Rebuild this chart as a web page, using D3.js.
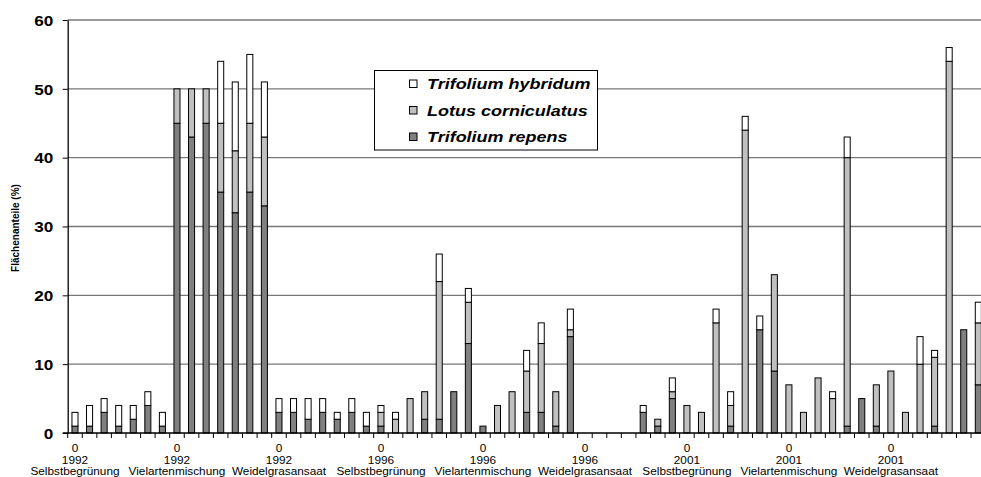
<!DOCTYPE html>
<html><head><meta charset="utf-8">
<script src="https://cdn.jsdelivr.net/npm/d3@7"></script>
<style>body{margin:0;background:#fff}svg{display:block}</style>
</head><body><svg id="c" width="981" height="477"></svg>
<script>
// ---- data ----
const groupIndex = ["0","0","0","0","0","0","0","0","0"];
const groupYears = ["1992","1992","1992","1996","1996","1996","2001","2001","2001"];
const groupTreatments = ["Selbstbegrünung","Vielartenmischung","Weidelgrasansaat",
  "Selbstbegrünung","Vielartenmischung","Weidelgrasansaat",
  "Selbstbegrünung","Vielartenmischung","Weidelgrasansaat"];
const plotsPerGroup = 7;
const seriesNames = ["Trifolium repens","Lotus corniculatus","Trifolium hybridum"];
const repens = [1,1,3,1,2,4,1, 45,43,45,35,32,35,33, 3,3,2,3,2,3,1,
  1,0,0,2,2,6,13, 1,0,0,3,3,1,14, 0,0,0,0,3,1,5,
  0,0,0,1,0,15,9, 0,0,0,0,1,5,1, 0,0,0,1,0,15,7];
const lotus = [0,0,0,0,0,0,0, 5,7,5,10,9,10,10, 0,0,0,0,0,0,0,
  2,2,5,4,20,0,6, 0,4,6,6,10,5,1, 0,0,0,0,0,1,1,
  4,3,16,3,44,0,14, 7,3,8,5,39,0,6, 9,3,10,10,54,0,9];
const hybridum = [2,3,2,3,2,2,2, 0,0,0,9,10,10,8, 2,2,3,2,1,2,2,
  1,1,0,0,4,0,2, 0,0,0,3,3,0,3, 0,0,0,0,1,0,2,
  0,0,2,2,2,2,0, 0,0,0,1,3,0,0, 0,0,4,1,2,0,3];
const yTicks = [0,10,20,30,40,50,60];
const yTitle = "Flächenanteile (%)";

// ---- chart ----
const svg = d3.select("#c");
const SX = 1.18; // horizontal text stretch of the original
const nCat = repens.length;
const x0 = 67.7, x1 = 985.6;
const x = d3.scaleBand().domain(d3.range(nCat)).range([x0, x1])
  .paddingInner(0.585).paddingOuter(0.2925);
const y = d3.scaleLinear().domain([0, 60]).range([433, 20]);
const step = x.step();

// gridlines
svg.append("g").selectAll("line").data(yTicks.filter(t => t > 0)).join("line")
  .attr("x1", x0).attr("x2", 981).attr("y1", d => y(d)).attr("y2", d => y(d))
  .attr("stroke", "#777").attr("stroke-width", 1.3);

// y axis
const yAxis = svg.append("g").attr("transform", `translate(${x0},0)`)
  .call(d3.axisLeft(y).tickValues(yTicks).tickSize(5).tickSizeOuter(0));
yAxis.select(".domain").attr("stroke", "#000").attr("stroke-width", 1.3);
yAxis.selectAll(".tick line").attr("stroke", "#000");
yAxis.selectAll(".tick text")
  .attr("x", -14.5 / SX).attr("dy", "0.36em")
  .attr("transform", `scale(${SX},1)`)
  .attr("font-family", "Liberation Sans, Arial, sans-serif")
  .attr("font-weight", "bold").attr("font-size", 14.5).attr("fill", "#000");

// y title
svg.append("text")
  .attr("transform", `translate(19,228) rotate(-90)`)
  .attr("text-anchor", "middle")
  .attr("font-family", "Liberation Sans, Arial, sans-serif")
  .attr("font-weight", "bold").attr("font-size", 10)
  .text(yTitle);

// bars
const table = d3.range(nCat).map(i => ({i, repens: repens[i], lotus: lotus[i], hybridum: hybridum[i]}));
const stacked = d3.stack().keys(["repens", "lotus", "hybridum"])(table);
const fills = {repens: "#808080", lotus: "#c0c0c0", hybridum: "#ffffff"};
svg.append("g").selectAll("g").data(stacked).join("g")
  .attr("fill", d => fills[d.key])
  .selectAll("rect").data(d => d.filter(s => s[1] - s[0] > 0)).join("rect")
  .attr("x", d => x(d.data.i))
  .attr("width", x.bandwidth())
  .attr("y", d => y(d[1]))
  .attr("height", d => y(d[0]) - y(d[1]))
  .attr("stroke", "#000").attr("stroke-width", 1);

// x axis
svg.append("line").attr("x1", x0 - 5).attr("x2", 981).attr("y1", y(0)).attr("y2", y(0))
  .attr("stroke", "#000").attr("stroke-width", 1.3);
svg.append("g").selectAll("line").data(d3.range(nCat + 1)).join("line")
  .attr("x1", i => x0 + i * step).attr("x2", i => x0 + i * step)
  .attr("y1", y(0)).attr("y2", y(0) + 5)
  .attr("stroke", "#000");

const labG = svg.append("g")
  .attr("font-family", "Liberation Sans, Arial, sans-serif").attr("font-size", 10);
groupYears.forEach((yr, g) => {
  const cx = x(g * plotsPerGroup) + x.bandwidth() / 2;
  const t = labG.append("text").attr("transform", `translate(${cx},0) scale(${SX},1)`)
    .attr("text-anchor", "middle");
  [groupIndex[g], yr, groupTreatments[g]].forEach((s, k) => {
    t.append("tspan").attr("x", 0).attr("y", 452 + k * 11.6).text(s);
  });
});

// legend
const lg = svg.append("g");
lg.append("rect").attr("x", 374.5).attr("y", 70.5).attr("width", 223).attr("height", 79.5)
  .attr("fill", "#fff").attr("stroke", "#000").attr("stroke-width", 1);
const legendKeys = ["hybridum", "lotus", "repens"];
const legendLabels = [seriesNames[2], seriesNames[1], seriesNames[0]];
legendKeys.forEach((k, j) => {
  const cy = 84 + j * 26.5;
  lg.append("rect").attr("x", 409.5).attr("y", cy - 4).attr("width", 7.5).attr("height", 7.5)
    .attr("fill", fills[k]).attr("stroke", "#000").attr("stroke-width", 1);
  lg.append("text").attr("transform", `translate(427,${cy}) scale(1.2,1)`)
    .attr("dy", "0.36em")
    .attr("font-family", "Liberation Sans, Arial, sans-serif")
    .attr("font-weight", "bold").attr("font-style", "italic").attr("font-size", 15)
    .text(legendLabels[j]);
});
</script></body></html>
